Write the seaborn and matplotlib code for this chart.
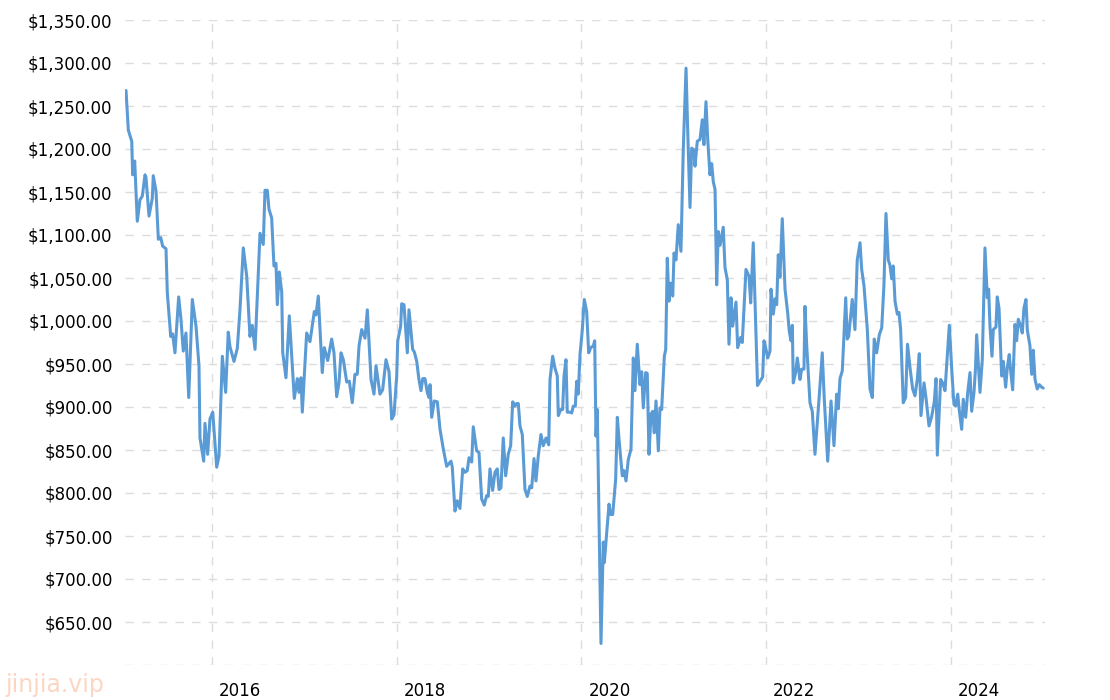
import pandas as pd
import seaborn as sns
import matplotlib.pyplot as plt
import matplotlib.transforms as mtransforms

# decimal years and weekly prices
years = [
    2015.069, 2015.094, 2015.131, 2015.141, 2015.163, 2015.191, 2015.220, 2015.245, 2015.275, 2015.285,
    2015.318, 2015.354, 2015.364, 2015.394, 2015.419, 2015.445, 2015.466, 2015.502, 2015.516, 2015.553,
    2015.574, 2015.599, 2015.639, 2015.664, 2015.689, 2015.718, 2015.748, 2015.787, 2015.827, 2015.859,
    2015.870, 2015.910, 2015.924, 2015.953, 2015.978, 2016.008, 2016.051, 2016.076, 2016.112, 2016.148,
    2016.176, 2016.195, 2016.238, 2016.274, 2016.303, 2016.339, 2016.376, 2016.411, 2016.436, 2016.466,
    2016.520, 2016.555, 2016.574, 2016.599, 2016.617, 2016.646, 2016.671, 2016.693, 2016.707, 2016.729,
    2016.755, 2016.766, 2016.801, 2016.837, 2016.863, 2016.891, 2016.924, 2016.942, 2016.964, 2016.978,
    2017.025, 2017.061, 2017.108, 2017.126, 2017.151, 2017.194, 2017.216, 2017.253, 2017.296, 2017.321,
    2017.350, 2017.375, 2017.397, 2017.422, 2017.459, 2017.487, 2017.519, 2017.548, 2017.573, 2017.592,
    2017.621, 2017.657, 2017.682, 2017.722, 2017.754, 2017.776, 2017.819, 2017.848, 2017.884, 2017.917,
    2017.946, 2017.971, 2018.000, 2018.011, 2018.043, 2018.054, 2018.079, 2018.115, 2018.133, 2018.173,
    2018.191, 2018.217, 2018.241, 2018.263, 2018.282, 2018.306, 2018.331, 2018.350, 2018.361, 2018.379,
    2018.407, 2018.440, 2018.469, 2018.505, 2018.541, 2018.588, 2018.602, 2018.631, 2018.656, 2018.685,
    2018.715, 2018.739, 2018.764, 2018.783, 2018.812, 2018.829, 2018.866, 2018.891, 2018.920, 2018.948,
    2018.974, 2018.992, 2019.010, 2019.039, 2019.064, 2019.089, 2019.108, 2019.129, 2019.154, 2019.180,
    2019.208, 2019.234, 2019.256, 2019.281, 2019.299, 2019.317, 2019.335, 2019.360, 2019.389, 2019.414,
    2019.443, 2019.462, 2019.487, 2019.508, 2019.533, 2019.562, 2019.587, 2019.617, 2019.646, 2019.660,
    2019.689, 2019.714, 2019.739, 2019.750, 2019.776, 2019.797, 2019.812, 2019.833, 2019.847, 2019.876,
    2019.895, 2019.912, 2019.934, 2019.949, 2019.966, 2019.985, 2020.010, 2020.031, 2020.057, 2020.079,
    2020.101, 2020.129, 2020.144, 2020.158, 2020.172, 2020.212, 2020.237, 2020.248, 2020.266, 2020.299,
    2020.317, 2020.339, 2020.371, 2020.389, 2020.410, 2020.443, 2020.461, 2020.483, 2020.508, 2020.537,
    2020.562, 2020.580, 2020.605, 2020.634, 2020.653, 2020.670, 2020.696, 2020.713, 2020.732, 2020.754,
    2020.772, 2020.789, 2020.808, 2020.833, 2020.851, 2020.869, 2020.898, 2020.913, 2020.930, 2020.948,
    2020.967, 2020.989, 2021.003, 2021.024, 2021.049, 2021.078, 2021.103, 2021.133, 2021.151, 2021.176,
    2021.194, 2021.219, 2021.230, 2021.255, 2021.284, 2021.309, 2021.327, 2021.349, 2021.368, 2021.392,
    2021.411, 2021.428, 2021.447, 2021.465, 2021.482, 2021.501, 2021.536, 2021.555, 2021.580, 2021.598,
    2021.620, 2021.638, 2021.674, 2021.692, 2021.725, 2021.742, 2021.782, 2021.815, 2021.833, 2021.861,
    2021.907, 2021.934, 2021.963, 2021.977, 2021.999, 2022.017, 2022.042, 2022.053, 2022.078, 2022.099,
    2022.115, 2022.132, 2022.150, 2022.175, 2022.205, 2022.234, 2022.251, 2022.270, 2022.284, 2022.294,
    2022.320, 2022.338, 2022.367, 2022.385, 2022.410, 2022.421, 2022.439, 2022.475, 2022.500, 2022.529,
    2022.573, 2022.608, 2022.630, 2022.667, 2022.703, 2022.735, 2022.764, 2022.782, 2022.800, 2022.825,
    2022.862, 2022.879, 2022.894, 2022.933, 2022.962, 2022.987, 2023.017, 2023.035, 2023.060, 2023.096,
    2023.125, 2023.150, 2023.171, 2023.197, 2023.226, 2023.252, 2023.276, 2023.298, 2023.323, 2023.341,
    2023.360, 2023.377, 2023.396, 2023.421, 2023.439, 2023.457, 2023.485, 2023.511, 2023.531, 2023.558,
    2023.587, 2023.612, 2023.637, 2023.659, 2023.677, 2023.710, 2023.731, 2023.764, 2023.793, 2023.821,
    2023.840, 2023.854, 2023.890, 2023.912, 2023.937, 2023.984, 2024.010, 2024.034, 2024.053, 2024.075,
    2024.092, 2024.118, 2024.135, 2024.161, 2024.183, 2024.208, 2024.226, 2024.251, 2024.267, 2024.280,
    2024.316, 2024.341, 2024.370, 2024.395, 2024.410, 2024.424, 2024.446, 2024.460, 2024.489, 2024.503,
    2024.522, 2024.551, 2024.568, 2024.594, 2024.612, 2024.633, 2024.648, 2024.670, 2024.695, 2024.713,
    2024.731, 2024.757, 2024.774, 2024.792, 2024.814, 2024.828, 2024.857, 2024.876, 2024.893, 2024.912,
    2024.936, 2024.958, 2024.984, 2025.001,
]

prices = [
    1268, 1222, 1209, 1170, 1186, 1116, 1141, 1145, 1170, 1167,
    1122, 1143, 1169, 1151, 1095, 1097, 1087, 1084, 1033, 982,
    985, 963, 1028, 1002, 965, 986, 911, 1025, 994, 948,
    864, 837, 881, 845, 886, 894, 830, 843, 959, 917,
    987, 970, 953, 968, 1013, 1085, 1052, 982, 995, 967,
    1102, 1089, 1152, 1152, 1130, 1120, 1064, 1067, 1019, 1057,
    1034, 963, 934, 1006, 959, 910, 933, 917, 934, 894,
    986, 976, 1011, 1007, 1029, 940, 969, 954, 979, 963,
    912, 928, 963, 955, 929, 930, 905, 938, 938, 971,
    990, 980, 1013, 932, 915, 948, 915, 920, 955, 941,
    886, 891, 936, 977, 994, 1020, 1019, 963, 1013, 967,
    964, 953, 932, 919, 933, 933, 917, 911, 926, 888,
    907, 906, 874, 851, 831, 837, 830, 779, 791, 782,
    828, 824, 826, 841, 836, 877, 849, 847, 793, 786,
    797, 796, 828, 803, 824, 828, 804, 806, 864, 820,
    845, 855, 906, 901, 904, 904, 878, 868, 804, 796,
    808, 806, 840, 814, 843, 868, 855, 864, 856, 932,
    959, 945, 936, 890, 897, 897, 936, 955, 894, 894,
    893, 901, 901, 930, 915, 961, 990, 1025, 1011, 963,
    969, 971, 977, 866, 897, 625, 743, 719, 743, 787,
    775, 775, 816, 888, 859, 820, 826, 814, 839, 851,
    957, 919, 973, 926, 941, 899, 940, 939, 845, 892,
    895, 870, 907, 849, 899, 897, 959, 967, 1073, 1023,
    1044, 1029, 1079, 1071, 1112, 1081, 1199, 1294, 1222, 1132,
    1201, 1199, 1180, 1209, 1211, 1234, 1205, 1255, 1211, 1170,
    1183, 1162, 1153, 1042, 1104, 1088, 1109, 1062, 1048, 973,
    1027, 994, 1022, 969, 981, 975, 1060, 1052, 1021, 1091,
    925, 930, 935, 977, 967, 957, 965, 1037, 1008, 1026,
    1019, 1077, 1051, 1119, 1037, 1009, 988, 977, 995, 928,
    940, 957, 932, 944, 944, 1017, 973, 905, 895, 845,
    909, 963, 909, 837, 907, 855, 915, 898, 933, 942,
    1027, 979, 982, 1025, 990, 1071, 1091, 1060, 1041, 990,
    921, 911, 979, 963, 984, 992, 1042, 1125, 1071, 1065,
    1049, 1064, 1023, 1008, 1010, 990, 905, 911, 973, 946,
    921, 913, 932, 962, 890, 928, 911, 878, 889, 906,
    933, 844, 932, 928, 919, 995, 944, 903, 901, 915,
    896, 874, 909, 888, 917, 940, 895, 917, 944, 984,
    917, 955, 1085, 1027, 1037, 994, 959, 990, 993, 1028,
    1015, 936, 953, 923, 946, 961, 942, 920, 996, 977,
    1002, 994, 986, 1015, 1025, 990, 971, 938, 966, 932,
    921, 926, 923, 922,
]

year_ticks = [2016, 2018, 2020, 2022, 2024]
price_ticks = list(range(600, 1351, 50))

df = pd.DataFrame({'year': years, 'price': prices})

sns.set_style('white')
plt.rcParams['font.family'] = ['DejaVu Sans']

fig = plt.figure(figsize=(11.1, 7), dpi=100)
ax = fig.add_axes([125 / 1110, 35 / 700, 920 / 1110, 645 / 700])

sns.lineplot(data=df, x='year', y='price', ax=ax, color='#5b9bd5', linewidth=2.2)

ax.set_xlim(2015.058, 2025.02)
ax.set_ylim(600, 1350)
ax.set_xticks(year_ticks)
ax.set_xticklabels([str(y) for y in year_ticks])
ax.set_yticks(price_ticks)
ax.set_yticklabels(['' if p == 600 else '${:,.2f}'.format(p) for p in price_ticks])

ax.grid(True, linestyle=(0, (6, 6)), color='#dcdcdc', linewidth=1)
ax.set_axisbelow(True)
for s in ax.spines.values():
    s.set_visible(False)

ax.tick_params(length=0, labelsize=12, colors='#000000')
ax.tick_params(axis='y', pad=9)
ax.tick_params(axis='x', pad=12)
shift = mtransforms.ScaledTranslation(5 / 72, 0, fig.dpi_scale_trans)
for lab in ax.get_xticklabels():
    lab.set_horizontalalignment('left')
    lab.set_transform(lab.get_transform() + shift)

ax.set_xlabel('')
ax.set_ylabel('')

fig.text(0.005, 0.011, 'jinjia.vip', color='#fcd6c2', fontsize=17)

fig.savefig('out.png', dpi=100)
